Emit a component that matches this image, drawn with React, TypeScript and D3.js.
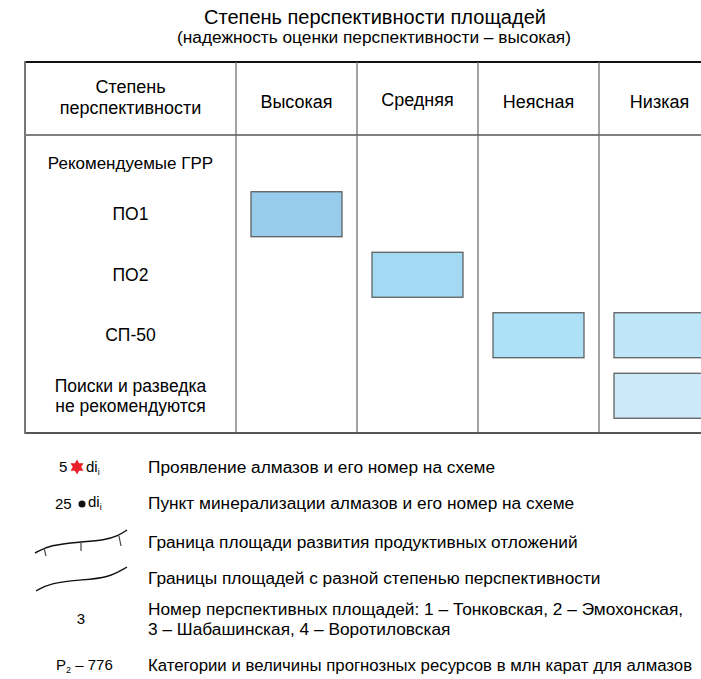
import React, { useRef, useEffect } from 'react';
import * as d3 from 'd3';

// table data
const columns = ['Высокая', 'Средняя', 'Неясная', 'Низкая'];
const rows = ['ПО1', 'ПО2', 'СП-50', 'Поиски и разведка\nне рекомендуются'];
const boxRows = ['ПО1', 'ПО2', 'СП-50', 'СП-50', 'Поиски и разведка\nне рекомендуются'];
const boxCols = ['Высокая', 'Средняя', 'Неясная', 'Низкая', 'Низкая'];
const boxColors = ['#98cced', '#a3d9f3', '#aee0f7', '#bfe5f8', '#cce9fa'];

// legend
const legendTexts = [
  'Проявление алмазов и его номер на схеме',
  'Пункт минерализации алмазов и его номер на схеме',
  'Граница площади развития продуктивных отложений',
  'Границы площадей с разной степенью перспективности',
  'Номер перспективных площадей: 1 – Тонковская, 2 – Эмохонская,\n3 – Шабашинская, 4 – Воротиловская',
  'Категории и величины прогнозных ресурсов в млн карат для алмазов',
];

const W = 701;
const H = 679;
const FONT = '"Liberation Sans", Arial, sans-serif';

const App = () => {
  const svgRef = useRef<SVGSVGElement>(null);

  useEffect(() => {
    const svg = d3.select(svgRef.current);
    svg.selectAll('*').remove();
    svg.attr('width', W).attr('height', H).style('font-family', FONT);

    // titles
    svg.append('text')
      .attr('x', 375).attr('y', 24)
      .attr('text-anchor', 'middle')
      .style('font-size', '20px')
      .text('Степень перспективности площадей');
    svg.append('text')
      .attr('x', 374).attr('y', 43)
      .attr('text-anchor', 'middle')
      .style('font-size', '17.3px')
      .text('(надежность оценки перспективности – высокая)');

    // scales
    const left = 25, top = 62, headBottom = 135, bottom = 433;
    const xScale = d3.scaleBand().domain(columns).range([236, 720]);
    const yScale = d3.scaleBand().domain(rows).range([184, 426]);
    const bw = xScale.bandwidth();
    const bh = yScale.bandwidth();

    const g = svg.append('g');

    // grid lines
    g.append('line').attr('x1', left).attr('x2', 730).attr('y1', top).attr('y2', top)
      .attr('stroke', '#111').attr('stroke-width', 2);
    g.append('line').attr('x1', left).attr('x2', 730).attr('y1', headBottom).attr('y2', headBottom)
      .attr('stroke', '#555').attr('stroke-width', 1.5);
    g.append('line').attr('x1', left).attr('x2', 730).attr('y1', bottom).attr('y2', bottom)
      .attr('stroke', '#555').attr('stroke-width', 2);
    g.append('line').attr('x1', left).attr('x2', left).attr('y1', top - 1).attr('y2', bottom + 1)
      .attr('stroke', '#777').attr('stroke-width', 2);
    g.selectAll('.col-line')
      .data(columns)
      .join('line')
      .attr('x1', d => xScale(d)).attr('x2', d => xScale(d))
      .attr('y1', top).attr('y2', bottom)
      .attr('stroke', '#666').attr('stroke-width', 1.2);

    // header
    const headY = (top + headBottom) / 2;
    const firstX = (left + 236) / 2;
    const h1 = g.append('text').attr('x', firstX).attr('y', headY - 3)
      .attr('text-anchor', 'middle').style('font-size', '18px');
    h1.append('tspan').attr('x', firstX).attr('dy', '-0.15em').text('Степень');
    h1.append('tspan').attr('x', firstX).attr('dy', '1.15em').text('перспективности');

    g.selectAll('.col-head')
      .data(columns)
      .join('text')
      .attr('x', d => xScale(d) + bw / 2)
      .attr('y', (d, i) => headY + (i === 1 ? 7 : 9))
      .attr('text-anchor', 'middle')
      .style('font-size', '18px')
      .text(d => d);

    g.append('text').attr('x', firstX).attr('y', 169)
      .attr('text-anchor', 'middle').style('font-size', '17px')
      .text('Рекомендуемые ГРР');

    // row labels
    g.selectAll('.row-label')
      .data(rows)
      .join('text')
      .attr('text-anchor', 'middle')
      .style('font-size', '17.5px')
      .each(function (d) {
        const lines = d.split('\n');
        const t = d3.select(this);
        const cy = yScale(d) + bh / 2;
        lines.forEach((ln, i) => {
          t.append('tspan')
            .attr('x', firstX)
            .attr('y', cy + 6 + (i - (lines.length - 1) / 2) * 20)
            .text(ln);
        });
      });

    // boxes
    const boxH = 45;
    g.selectAll('.box')
      .data(boxRows.map((r, i) => ({ r, c: boxCols[i], fill: boxColors[i] })))
      .join('rect')
      .attr('x', d => xScale(d.c) + 15)
      .attr('y', d => yScale(d.r) + (bh - boxH) / 2)
      .attr('width', bw - 30)
      .attr('height', boxH)
      .attr('fill', d => d.fill)
      .attr('stroke', '#555')
      .attr('stroke-width', 1.2);

    // legend
    const legY = [467, 503, 542, 578, 609, 665];
    const textX = 148;
    const lg = svg.append('g');
    legendTexts.forEach((txt, i) => {
      const t = lg.append('text').style('font-size', i === 5 ? '16.8px' : '17.3px');
      txt.split('\n').forEach((ln, j) => {
        t.append('tspan').attr('x', textX).attr('y', legY[i] + 6 + j * 20).text(ln);
      });
    });

    // symbol 1: number, red star, di
    const sym = svg.append('g').style('font-size', '15px');
    sym.append('text').attr('x', 59).attr('y', 472).text('5');
    const star = [];
    for (let k = 0; k < 12; k++) {
      const a = (Math.PI / 6) * k;
      const r = k % 2 === 0 ? 7.5 : 4.2;
      star.push([a, r]);
    }
    sym.append('path')
      .attr('d', d3.lineRadial().curve(d3.curveLinearClosed)(star as [number, number][]))
      .attr('transform', 'translate(77,467)')
      .attr('fill', '#e8202a');
    const di1 = sym.append('text').attr('x', 86).attr('y', 472).text('di');
    di1.append('tspan').attr('dy', 3).style('font-size', '9px').text('i');

    // symbol 2: number, black dot, di
    sym.append('text').attr('x', 55).attr('y', 509).text('25');
    sym.append('circle').attr('cx', 82).attr('cy', 504).attr('r', 3.5).attr('fill', '#111');
    const di2 = sym.append('text').attr('x', 88).attr('y', 507).text('di');
    di2.append('tspan').attr('dy', 3).style('font-size', '9px').text('i');

    // symbol 3: boundary with ticks
    const line = d3.line().curve(d3.curveBasis);
    const curve1: [number, number][] = [[35, 553], [50, 545], [80, 542], [105, 540], [118, 536], [127, 530]];
    svg.append('path').attr('d', line(curve1)).attr('fill', 'none')
      .attr('stroke', '#111').attr('stroke-width', 1.5);
    const ticks: [number, number, number, number][] = [[44, 548, 46, 556], [81, 542, 81, 551], [119, 536, 121, 546]];
    svg.selectAll('.tick')
      .data(ticks)
      .join('line')
      .attr('x1', d => d[0]).attr('y1', d => d[1])
      .attr('x2', d => d[2]).attr('y2', d => d[3])
      .attr('stroke', '#444').attr('stroke-width', 1.2);

    // symbol 4: boundary
    const curve2: [number, number][] = [[36, 591], [50, 583], [80, 580], [108, 578], [127, 567]];
    svg.append('path').attr('d', line(curve2)).attr('fill', 'none')
      .attr('stroke', '#111').attr('stroke-width', 1.3);

    // symbol 5: area number
    svg.append('text').attr('x', 81).attr('y', 624).attr('text-anchor', 'middle')
      .style('font-size', '15px').text('3');

    // symbol 6: category
    const p = svg.append('text').attr('x', 56).attr('y', 670).style('font-size', '15px');
    p.append('tspan').text('P');
    p.append('tspan').attr('dy', 3).style('font-size', '9px').text('2');
    p.append('tspan').attr('dy', -3).text(' – 776');
  }, []);

  return <svg ref={svgRef} style={{ position: 'absolute', left: 0, top: 0 }}></svg>;
};

export default App;
